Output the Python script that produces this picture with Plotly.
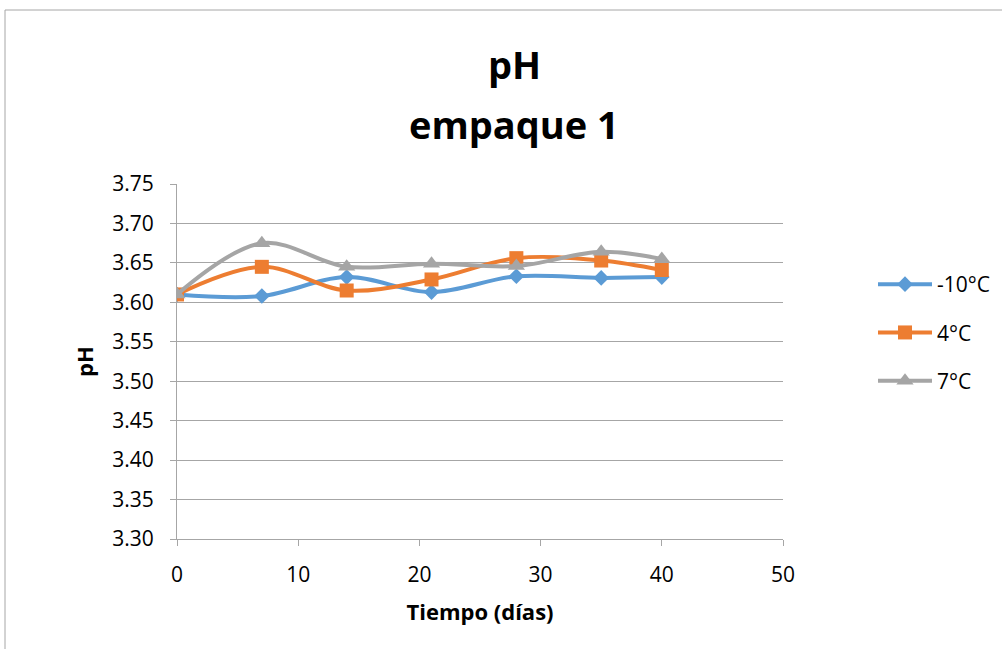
import plotly.graph_objects as go

dias = [0, 7, 14, 21, 28, 35, 40]
ph_m10 = [3.610, 3.608, 3.632, 3.613, 3.633, 3.631, 3.632]
ph_4 = [3.610, 3.645, 3.615, 3.629, 3.656, 3.653, 3.641]
ph_7 = [3.610, 3.675, 3.645, 3.649, 3.646, 3.664, 3.655]
series_names = ["-10°C", "4°C", "7°C"]
x_ticks = [0, 10, 20, 30, 40, 50]
y_ticks = [3.30, 3.35, 3.40, 3.45, 3.50, 3.55, 3.60, 3.65, 3.70, 3.75]
title_lines = ["pH", "empaque 1"]

FONT = "Open Sans"
colors = ["#5B9BD5", "#ED7D31", "#A5A5A5"]
symbols = ["diamond", "square", "triangle-up"]
sizes = [12, 14, 15]

fig = go.Figure()
for i, (name, vals, c, s, sz) in enumerate(zip(series_names, [ph_m10, ph_4, ph_7], colors, symbols, sizes)):
    fig.add_trace(go.Scatter(
        x=dias, y=vals, name=name, mode="lines+markers", legendgroup=f"g{i}",
        line=dict(color=c, width=4, shape="spline", smoothing=1.0),
        marker=dict(symbol=s, size=sz, color=c),
    ))

L, R, T, B = 177, 783, 184, 539
W, H = 1002, 649
pw, ph = R - L, B - T

fig.update_layout(
    width=W, height=H,
    margin=dict(l=L, r=W - R, t=T, b=H - B, autoexpand=False),
    paper_bgcolor="white", plot_bgcolor="white",
    font=dict(family=FONT, color="black"),
    xaxis=dict(range=[0, 50], tickvals=x_ticks, ticktext=[str(v) for v in x_ticks],
               showgrid=False, showline=True, linecolor="#A6A6A6", linewidth=1,
               ticks="outside", ticklen=6, tickcolor="#A6A6A6", ticklabelstandoff=11,
               tickfont=dict(family=FONT, size=21), zeroline=False,
               title=dict(text="<b>Tiempo (días)</b>", font=dict(family=FONT, size=22), standoff=17)),
    yaxis=dict(range=[3.30, 3.75], tickvals=y_ticks, ticktext=[f"{v:.2f}" for v in y_ticks],
               showgrid=True, gridcolor="#A6A6A6", gridwidth=1,
               showline=True, linecolor="#A6A6A6", linewidth=1,
               ticks="outside", ticklen=6, tickcolor="#A6A6A6", ticklabelstandoff=12,
               tickfont=dict(family=FONT, size=21), zeroline=False,
               title=dict(text="<b>pH</b>", font=dict(family=FONT, size=22), standoff=12)),
    legend=dict(xref="container", yref="container",
                x=873 / W, y=1 - 264 / H, xanchor="left", yanchor="top",
                font=dict(family=FONT, size=21), tracegroupgap=18, itemwidth=54,
                bgcolor="rgba(0,0,0,0)"),
    showlegend=True,
)

for txt, py in zip(title_lines, [64, 124]):
    fig.add_annotation(text=f"<b>{txt}</b>", xref="paper", yref="paper",
                       x=(514 - L) / pw, y=(B - py) / ph, xanchor="center", yanchor="middle",
                       showarrow=False, font=dict(family=FONT, size=38, color="black"))

fig.add_shape(type="rect", xref="paper", yref="paper",
              x0=(5 - L) / pw, x1=(1010 - L) / pw,
              y0=(B - 660) / ph, y1=(B - 10) / ph,
              line=dict(color="#A6A6A6", width=1), fillcolor="rgba(0,0,0,0)", layer="below")

fig.write_html("out.html")
